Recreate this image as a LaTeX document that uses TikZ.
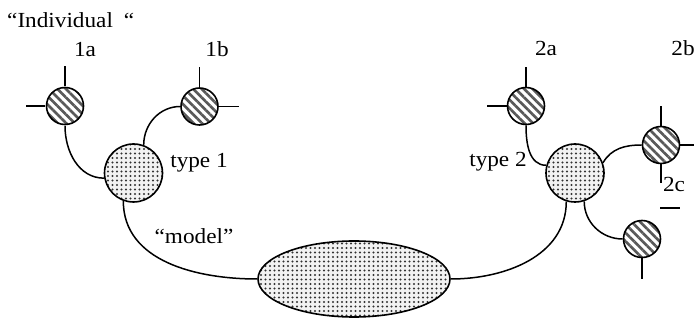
\documentclass[tikz,border=0pt]{standalone}
\usepackage{fontspec}
\setmainfont{Liberation Serif}[FakeStretch=1.08]
\usetikzlibrary{positioning, patterns.meta, shapes}

\tikzset{
  part/.style={circle, draw, line width=1.6pt, minimum size=37pt, inner sep=0pt,
    preaction={fill=white},
    pattern={Lines[angle=-45,distance=6pt,line width=2.7pt]}, pattern color=black!65},
  kind/.style={circle, draw, line width=1.6pt, minimum size=58pt, inner sep=0pt,
    preaction={fill=gray!10},
    pattern={Dots[distance=4.5pt,radius=1.05pt]}, pattern color=black!80},
  whisker/.style={line width=1.5pt},
  link/.style={line width=1.5pt},
  lbl/.style={font=\fontsize{21.5}{26}\selectfont, inner sep=0pt, anchor=base}
}

\begin{document}
\begin{tikzpicture}[x=1pt, y=-1pt]
    \useasboundingbox (0,0) rectangle (694,320);

    % texts
    \node [lbl, anchor=base west] (indiv) at (7,27.5) {“Individual\hspace{11pt}“};
    \node [lbl] (l1a) at (85,57) {1a};
    \node [lbl] (l1b) at (217,57) {1b};
    \node [lbl] (l2a) at (546,56) {2a};
    \node [lbl] (l2b) at (683,56) {2b};
    \node [lbl] (t1) at (199,168) {type 1};
    \node [lbl] (t2) at (498,167) {type 2};
    \node [lbl] (l2c) at (674,192) {2c};
    \node [lbl] (mdl) at (194,244) {“model”};

    % parts and types
    \node [part] (c1a) at (65,106) {};
    \node [part] (c1b) at (199.5,106.5) {};
    \node [kind] (c1) at (133.5,173) {};
    \node [part] (c2a) at (526,106) {};
    \node [part] (c2b) at (661,145) {};
    \node [part] (c2d) at (642,239) {};
    \node [kind] (c2) at (575,173) {};
    \node [ellipse, draw, line width=1.6pt, minimum width=192pt, minimum height=76pt,
           inner sep=0pt, preaction={fill=gray!10},
           pattern={Dots[distance=4.5pt,radius=1.05pt]}, pattern color=black!80]
           (ell) at (354,279) {};

    % whiskers
    \draw [whisker] (c1a.north) -- ++(0,-20);
    \draw [whisker] (c1a.west) -- ++(-19,0);
    \draw [whisker] (c1b.north) -- ++(0,-20);
    \draw [whisker] (c1b.east) -- ++(20,0);
    \draw [whisker] (c2a.north) -- ++(0,-20);
    \draw [whisker] (c2a.west) -- ++(-20,0);
    \draw [whisker] (c2b.north) -- ++(0,-20);
    \draw [whisker] (c2b.east) -- ++(20,0);
    \draw [whisker] (c2b.south) -- ++(0,19);
    \draw [whisker] (c2d.south) -- ++(0,21);
    \draw [whisker] (660,208) -- (680,208);

    % links
    \draw [link] (c1a.south) to[out=-90, in=180] (c1.190);
    \draw [link] (c1.70) to[out=90, in=180] (c1b.west);
    \draw [link] (c1.-110) to[out=-90, in=180] (ell.west);
    \draw [link] (c2a.south) to[out=-90, in=180] (c2.165);
    \draw [link] (c2.20) to[out=60, in=180] (c2b.west);
    \draw [link] (c2.-72) to[out=-90, in=180] (c2d.west);
    \draw [link] (c2.-107) to[out=-90, in=0] (ell.east);
\end{tikzpicture}
\end{document}
